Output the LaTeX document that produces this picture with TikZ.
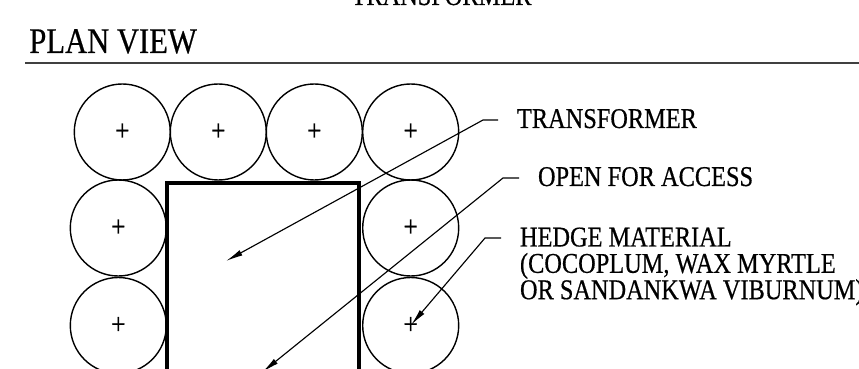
\documentclass[tikz,border=0pt]{standalone}
\usepackage{fontspec}
\setmainfont[FakeStretch=0.85,FakeBold=0.5]{Liberation Serif}
\usetikzlibrary{arrows.meta}
\tikzset{
  hedge/.style={circle,draw,line width=0.8pt,minimum size=1.92cm,inner sep=0pt,outer sep=0pt,font=\fontsize{17}{17}\selectfont},
  leader/.style={line width=0.65pt,-{Latex[length=0.34cm,width=0.12cm]}},
  callout/.style={anchor=west,inner ysep=0pt,inner xsep=0.38cm,outer sep=0pt,text height=0.38cm,text depth=0.06cm,font=\fontsize{16.3}{15}\selectfont},
}
\begin{document}
\begin{tikzpicture}
  \clip (0,0) rectangle (17.18,7.36);
  \node[anchor=base,inner sep=0pt,font=\fontsize{16.3}{15}\selectfont] (caption) at (8.83,7.26) {TRANSFORMER};
  \node[anchor=base west,inner sep=0pt,font=\fontsize{20.5}{20}\selectfont] (title) at (0.58,6.30) {PLAN VIEW};
  \draw[line width=0.6pt,black!75] (0.5,6.10)--(17.18,6.10);
  % hedge circles
  \node[hedge] (h1) at (2.446,4.72) {+};
  \node[hedge] (h2) at (4.366,4.72) {+};
  \node[hedge] (h3) at (6.286,4.72) {+};
  \node[hedge] (h4) at (8.214,4.72) {+};
  \node[hedge] (h5) at (2.366,2.80) {+};
  \node[hedge] (h6) at (2.366,0.85) {+};
  \node[hedge] (h7) at (8.214,2.80) {+};
  \node[hedge] (h8) at (8.214,0.85) {+};
  % transformer pad
  \draw[line width=2.2pt] (3.34,-0.2)--(3.34,3.70)--(7.18,3.70)--(7.18,-0.2);
  % callouts
  \node[callout] (lblT) at (9.96,4.96) {TRANSFORMER};
  \node[callout] (lblO) at (10.38,3.80) {OPEN FOR ACCESS};
  \node[anchor=north west,inner ysep=0pt,inner xsep=0.38cm,outer sep=0pt,align=left,font=\fontsize{16.3}{15}\selectfont] (lblH) at (10.02,2.81) {HEDGE MATERIAL\\(COCOPLUM, WAX MYRTLE\\OR SANDANKWA VIBURNUM)};
  \coordinate (kneeT) at (9.66,4.96);
  \coordinate (kneeO) at (10.06,3.80);
  \coordinate (kneeH) at (9.70,2.60);
  \coordinate (tipT) at (4.52,2.14);
  \coordinate (tipO) at (5.25,-0.08);
  \coordinate (tipH) at (8.22,0.86);
  \draw[leader] (lblT.west)--(kneeT)--(tipT);
  \draw[leader] (lblO.west)--(kneeO)--(tipO);
  \draw[leader] (lblH.north west)++(0,-0.21)--(kneeH)--(tipH);
\end{tikzpicture}
\end{document}
